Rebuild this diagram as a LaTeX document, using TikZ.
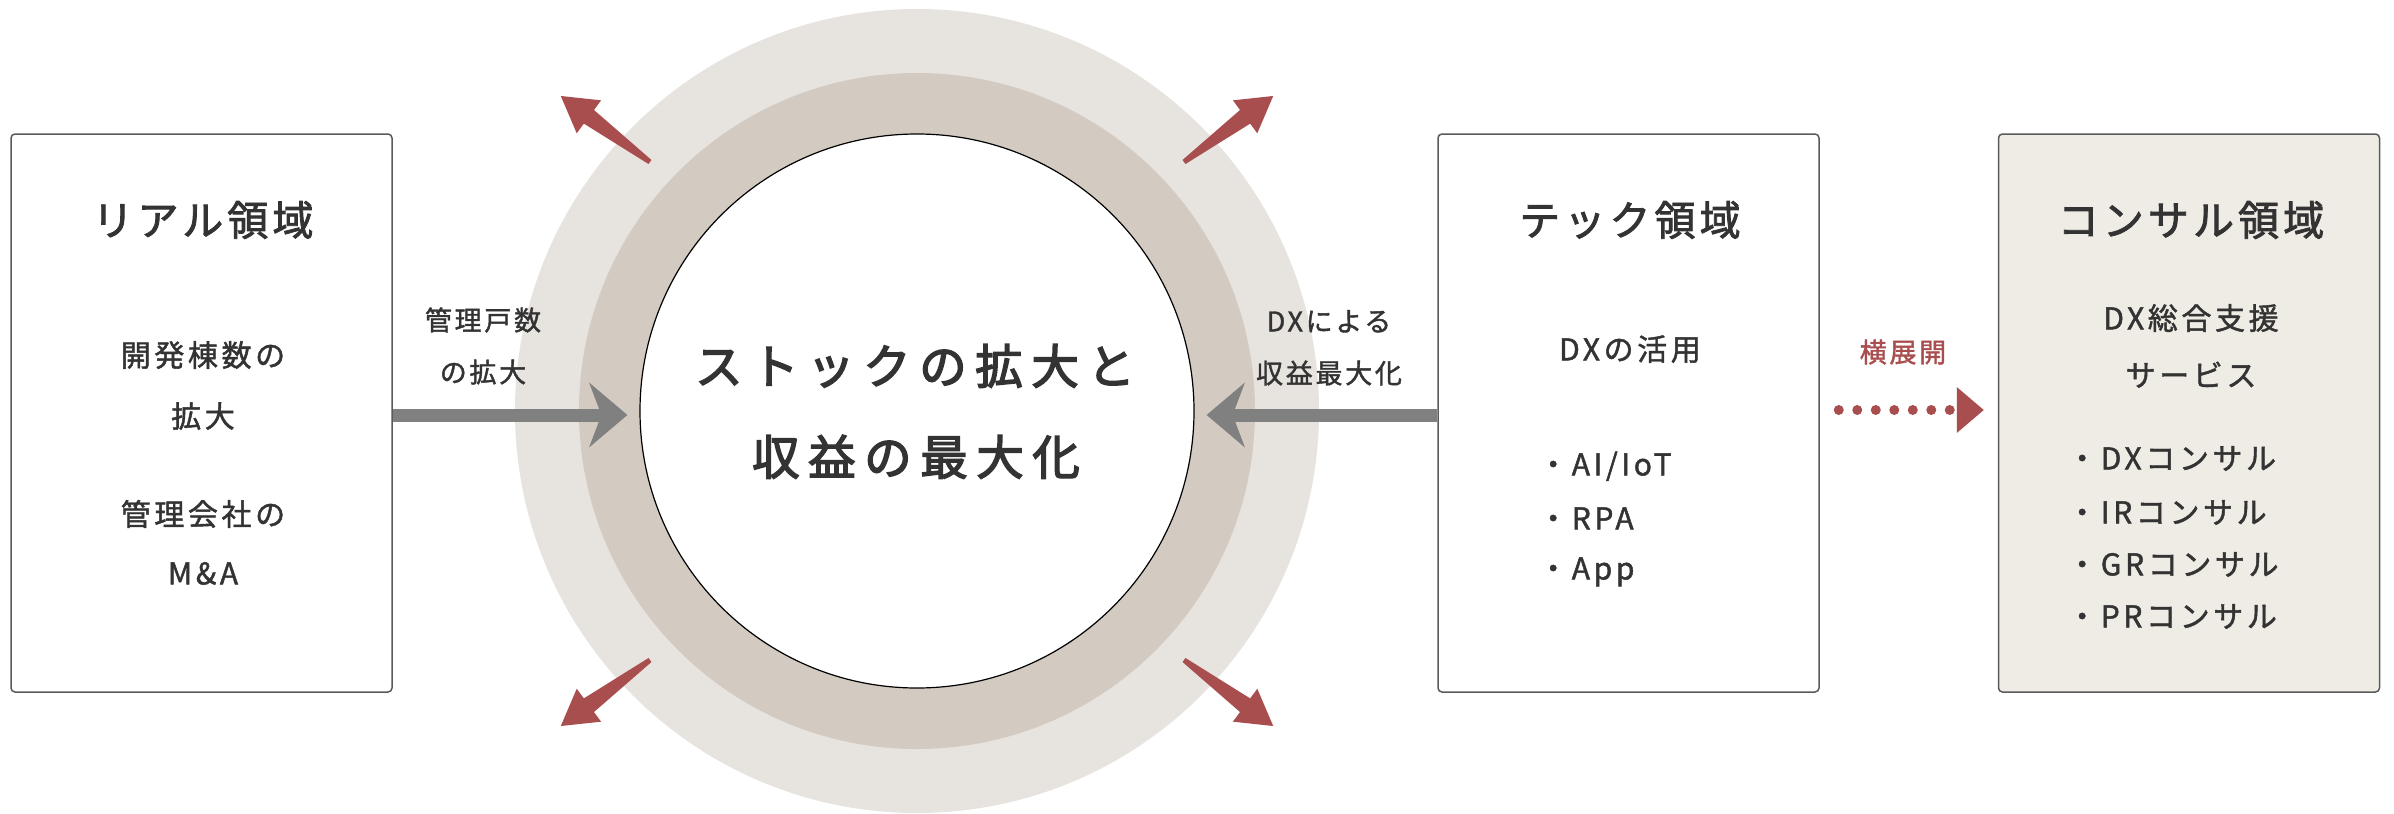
\documentclass[tikz,border=0pt]{standalone}
\usepackage{fontspec}
\setmainfont{Noto Sans CJK JP}
\usetikzlibrary{arrows.meta}
\definecolor{ink}{HTML}{333333}
\definecolor{outerc}{HTML}{E7E4E0}
\definecolor{midc}{HTML}{D3CAC1}
\definecolor{boxc}{HTML}{5A5A5A}
\definecolor{consulc}{HTML}{EFEBE5}
\definecolor{redc}{HTML}{A94E4F}
\definecolor{greyar}{HTML}{808080}
\tikzset{
  areabox/.style={draw=boxc, line width=1.5pt, rounded corners=4pt, minimum width=381pt, minimum height=558pt, inner sep=0pt},
  titletxt/.style={text=ink, text height=36pt, text depth=5pt, font=\fontsize{41}{49}\selectfont\addfontfeatures{LetterSpace=10,FakeBold=2}},
  bodytxt/.style={text=ink, text height=26.4pt, text depth=3.6pt, font=\fontsize{30}{36}\selectfont\addfontfeatures{LetterSpace=12,FakeBold=1.5}},
  labeltxt/.style={text=ink, text height=23.8pt, text depth=3.2pt, font=\fontsize{27}{32}\selectfont\addfontfeatures{LetterSpace=10,FakeBold=1.5}},
  centertxt/.style={text=ink, text height=41.4pt, text depth=5.6pt, font=\fontsize{47.5}{56}\selectfont\addfontfeatures{LetterSpace=18,FakeBold=3}},
  redtxt/.style={text=redc, text height=23.8pt, text depth=3.2pt, font=\fontsize{27}{32}\selectfont\addfontfeatures{LetterSpace=10,FakeBold=1.5}},
  greyarrow/.style={draw=greyar, line width=13pt, -{Stealth[length=38pt,width=64pt,inset=12pt]}},
  dotline/.style={draw=redc, line width=10pt, line cap=round, dash pattern=on 0pt off 18.5pt},
}
\begin{document}
\begin{tikzpicture}[x=1pt,y=-1pt, every node/.style={inner sep=0pt}]
\useasboundingbox (0,0) rectangle (2394,814);
% circles
\node[circle, fill=outerc, minimum size=804pt] (outer) at (917,411) {};
\node[circle, fill=midc, minimum size=676pt] (mid) at (917,411) {};
\node[circle, fill=white, draw=black, line width=1.2pt, minimum size=554pt] (core) at (917,411) {};
\node[centertxt] (c1) at (915,366) {ストックの拡大と};
\node[centertxt] (c2) at (916,457) {収益の最大化};
% red expanding arrows
\foreach \px/\py/\a in {650/162/143.5, 1184/162/36.5, 650/660/216.5, 1184/660/-36.5}{
  \fill[redc, shift={(\px,\py)}, rotate=\a] (0,-2.5) -- (76,-8.5) -- (76,-20.5) -- (111,0) -- (76,20.5) -- (76,8.5) -- (0,2.5) -- cycle;
}
% boxes
\node[areabox] (real) at (201.5,413) {};
\node[areabox] (tech) at (1628.5,413) {};
\node[areabox, fill=consulc] (consul) at (2189,413) {};
% grey arrows
\coordinate (ltip) at ([xshift=-12pt]core.west);
\coordinate (rtip) at ([xshift=12pt]core.east);
\draw[greyarrow] ([yshift=-2pt]real.east) -- ([yshift=-2pt]real.east -| ltip);
\draw[greyarrow] ([yshift=-2pt]tech.west) -- ([yshift=-2pt]tech.west -| rtip);
% real box text
\node[titletxt] (rt) at (203,220) {リアル領域};
\node[bodytxt] (r1) at (203,355) {開発棟数の};
\node[bodytxt] (r2) at (203,416) {拡大};
\node[bodytxt] (r3) at (203,514) {管理会社の};
\node[bodytxt] (r4) at (203,573) {M\&A};
\node[labeltxt] (l1) at (483,320) {管理戸数};
\node[labeltxt] (l2) at (483,372) {の拡大};
\node[labeltxt] (d1) at (1329,321) {DXによる};
\node[labeltxt] (d2) at (1329,373) {収益最大化};
% tech box text
\node[titletxt] (tt) at (1630,220) {テック領域};
\node[bodytxt] (t1) at (1630,349) {DXの活用};
\node[bodytxt, anchor=west] (t2) at (1538,464) {・AI/IoT};
\node[bodytxt, anchor=west] (t3) at (1538,518) {・RPA};
\node[bodytxt, anchor=west] (t4) at (1538,568) {・App};
% lateral expansion
\node[redtxt] (yoko) at (1903,352) {横展開};
\draw[dotline] ([xshift=19pt,yshift=3pt]tech.east) -- ([xshift=-42pt,yshift=3pt]consul.west);
\fill[redc] ([xshift=-41pt,yshift=-20pt]consul.west) -- ([xshift=-14pt,yshift=3pt]consul.west) -- ([xshift=-41pt,yshift=26pt]consul.west) -- cycle;
% consul box text
\node[titletxt] (ct) at (2191,220) {コンサル領域};
\node[bodytxt] (k1) at (2191,318) {DX総合支援};
\node[bodytxt] (k2) at (2191,375) {サービス};
\node[bodytxt, anchor=west] (k3) at (2067,458) {・DXコンサル};
\node[bodytxt, anchor=west] (k4) at (2067,512) {・IRコンサル};
\node[bodytxt, anchor=west] (k5) at (2067,564) {・GRコンサル};
\node[bodytxt, anchor=west] (k6) at (2067,616) {・PRコンサル};
\end{tikzpicture}
\end{document}
